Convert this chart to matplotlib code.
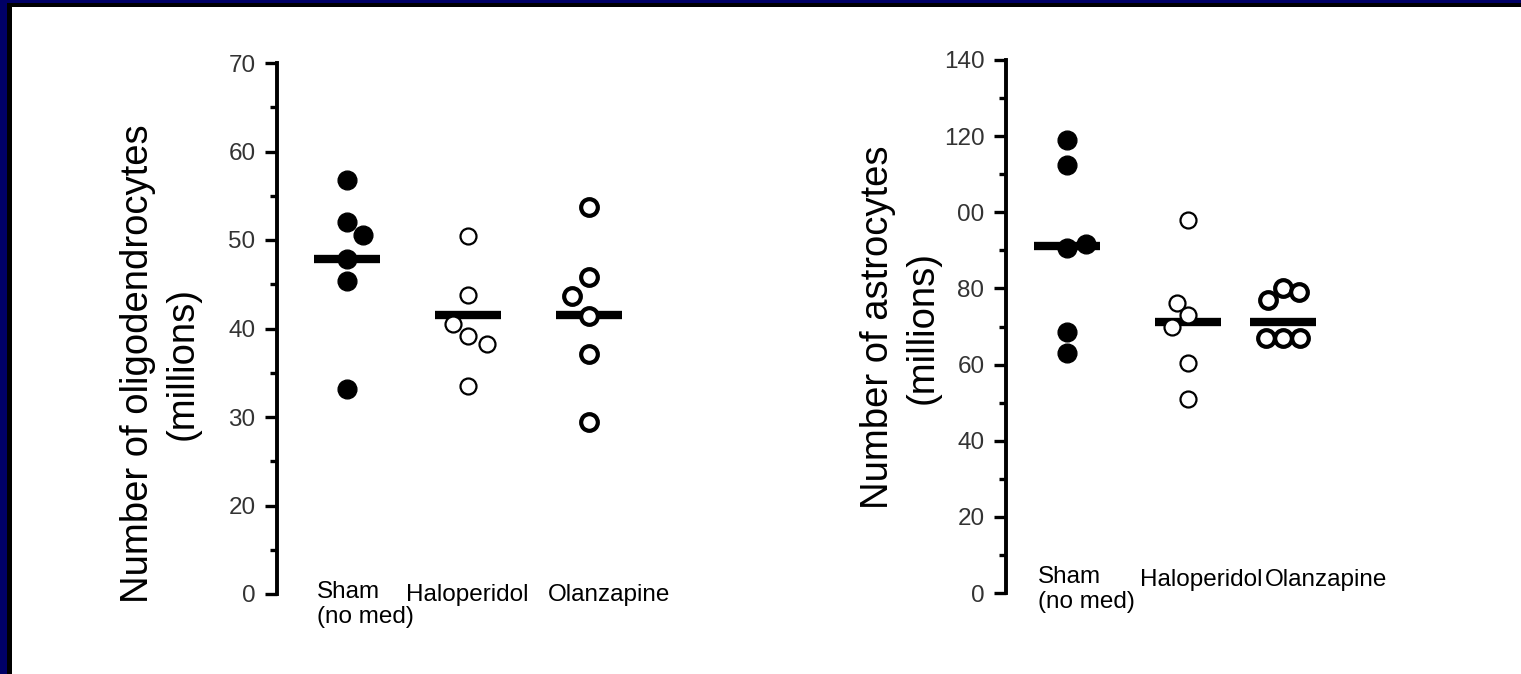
import numpy as np
import matplotlib.pyplot as plt
import matplotlib.transforms as mtransforms

plt.rcParams['font.family'] = ['Liberation Sans', 'DejaVu Sans']

# data (millions of cells)
oligo_sham = [56.8, 52.0, 50.6, 47.8, 45.4, 33.2]
oligo_halo = [50.5, 43.8, 40.5, 39.2, 38.3, 33.5]
oligo_olan = [53.7, 45.8, 43.7, 41.4, 37.1, 29.4]
oligo_median = [47.8, 41.5, 41.5]

astro_sham = [119.0, 112.4, 91.7, 90.5, 68.5, 63.0]
astro_halo = [98.0, 76.2, 73.0, 69.9, 60.5, 50.9]
astro_olan = [80.0, 79.0, 77.0, 67.0, 67.0, 67.0]
astro_median = [91.1, 71.3, 71.2]

oligo_ticks = [10, 20, 30, 40, 50, 60, 70]
oligo_ticklabels = ['0', '20', '30', '40', '50', '60', '70']
astro_ticks = [0, 20, 40, 60, 80, 100, 120, 140]
astro_ticklabels = ['0', '20', '40', '60', '80', '00', '120', '140']

# layout: horizontal spread of points inside a group
oligo_jit = [[0, 0, 0.13, 0, 0, 0], [0, 0, -0.12, 0, 0.16, 0], [0, 0, -0.14, 0, 0, 0]]
astro_jit = [[0, 0, 0.16, 0, 0, 0], [0, -0.09, 0, -0.13, 0, 0], [0, 0.13, -0.12, -0.14, 0, 0.14]]

W, H = 1521, 674
fig = plt.figure(figsize=(W / 100, H / 100), dpi=100, facecolor='white')

# slide border, top and left only (pixel coordinates)
bg = fig.add_axes([0, 0, 1, 1])
bg.set_xlim(0, W)
bg.set_ylim(H, 0)
bg.axis('off')
bg.axvspan(0, 7, color='#000066', lw=0)
bg.axvspan(7, 12, color='black', lw=0)
bg.fill_between([0, W], 0, 3, color='#000066', lw=0)
bg.fill_between([7, W], 3, 7, color='black', lw=0)

styles = [dict(mfc='black', mec='black', ms=13.5, mew=1),
          dict(mfc='white', mec='black', ms=11.5, mew=1.6),
          dict(mfc='white', mec='black', ms=12, mew=3)]


def panel(rect, xlim, ylim, groups, medians, xpos, jit, ticks, ticklabels, minor):
    ax = fig.add_axes(rect)
    for i in range(3):
        ax.plot([xpos[i] - 0.27, xpos[i] + 0.27], [medians[i], medians[i]], color='black',
                lw=6, solid_capstyle='butt', zorder=2)
        ax.plot(xpos[i] + np.array(jit[i]), groups[i], 'o', ls='none', zorder=3, **styles[i])
    ax.set_xlim(xlim)
    ax.set_ylim(ylim)
    for s in ['top', 'right', 'bottom']:
        ax.spines[s].set_visible(False)
    ax.spines['left'].set_linewidth(2.8)
    ax.set_xticks([])
    ax.set_yticks(ticks)
    ax.set_yticklabels(ticklabels)
    ax.set_yticks(minor, minor=True)
    ax.tick_params(axis='y', which='major', length=8.5, width=2.4, direction='out',
                   labelsize=17.5, labelcolor='#333333', pad=7)
    ax.tick_params(axis='y', which='minor', length=5, width=2.4, direction='out')
    ax.patch.set_alpha(0)
    return ax


# left panel: oligodendrocytes
ax1 = panel([277 / W, 1 - 594 / H, 443 / W, 531 / H], (1 - 70 / 121, 1 - 70 / 121 + 443 / 121), (10, 70),
            [oligo_sham, oligo_halo, oligo_olan], oligo_median, [1, 2, 3], oligo_jit,
            oligo_ticks, oligo_ticklabels, np.arange(15, 70, 10))
tr1 = mtransforms.blended_transform_factory(ax1.transData, ax1.transAxes)
ax1.text(0.752, 0.024, 'Sham\n(no med)', transform=tr1, ha='left', va='top', fontsize=17.5, linespacing=1.15)
ax1.text(1.99, -0.002, 'Haloperidol', transform=tr1, ha='center', va='center', fontsize=17.5)
ax1.text(3.165, -0.002, 'Olanzapine', transform=tr1, ha='center', va='center', fontsize=17.5)

# right panel: astrocytes
ax2 = panel([1006 / W, 1 - 593 / H, 450 / W, 533 / H], (1 - 61 / 121, 1 - 61 / 121 + 450 / 121), (0, 140),
            [astro_sham, astro_halo, astro_olan], astro_median, [1, 2, 2.785], astro_jit,
            astro_ticks, astro_ticklabels, np.arange(10, 140, 20))
tr2 = mtransforms.blended_transform_factory(ax2.transData, ax2.transAxes)
ax2.text(0.76, 0.05, 'Sham\n(no med)', transform=tr2, ha='left', va='top', fontsize=17.5, linespacing=1.15)
ax2.text(1.603, 0.024, 'Haloperidol', transform=tr2, ha='left', va='center', fontsize=17.5)
ax2.text(2.636, 0.024, 'Olanzapine', transform=tr2, ha='left', va='center', fontsize=17.5)

fig.text(160 / W, 1 - 364 / H, 'Number of oligodendrocytes\n(millions)', rotation=90,
         ha='center', va='center', multialignment='center', fontsize=27.5, linespacing=1.3)
fig.text(900 / W, 1 - 327 / H, 'Number of astrocytes\n(millions)', rotation=90,
         ha='center', va='center', multialignment='center', fontsize=27.5, linespacing=1.3)

fig.savefig('out.png', dpi=100)
